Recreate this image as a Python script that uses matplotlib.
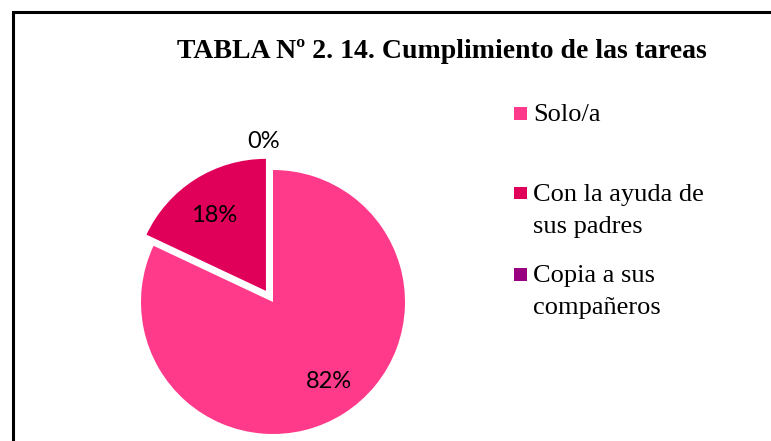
import numpy as np
import matplotlib
matplotlib.use("Agg")
import matplotlib.pyplot as plt
from matplotlib.patches import Rectangle

title = "TABLA Nº 2. 14. Cumplimiento de las tareas"
categories = ["Solo/a", "Con la ayuda de\nsus padres", "Copia a sus\ncompañeros"]
values = [82, 18, 0]
colors = ["#FF3A8A", "#E0005A", "#990080"]
explode = [0, 0.1, 0]

W, H = 771, 441
fig = plt.figure(figsize=(W / 100, H / 100), dpi=100)

# outer frame (continues past right and bottom edges)
fig.add_artist(Rectangle((13 / W, -0.1), 1.2, (H - 11.5) / H + 0.1,
                         transform=fig.transFigure, fill=False,
                         edgecolor="black", linewidth=2.2, clip_on=False))

# pie axes: center (273, 302) px, radius 132 px
R = 132
cx, cy = 273, H - 302
half = 1.2
size = 2 * half * R
ax = fig.add_axes([(cx - size / 2) / W, (cy - size / 2) / H, size / W, size / H])

wedges, texts, autotexts = ax.pie(
    values, colors=colors, explode=explode, startangle=90, counterclock=False,
    autopct=lambda p: f"{p:.0f}%", pctdistance=0.72, radius=1,
    wedgeprops=dict(linewidth=0),
    textprops=dict(fontsize=17, family="Lato", color="black"))
ax.set_xlim(-half, half)
ax.set_ylim(-half, half)
ax.set_aspect("equal")
ax.axis("off")
for w in wedges:
    w.set_clip_on(False)
for t in autotexts:
    t.set_va("center_baseline")
# nudge the labels to where the reference places them
x0, y0 = autotexts[0].get_position()
autotexts[0].set_position((x0 + 0.04, y0 + 0.02))
x1, y1 = autotexts[1].get_position()
autotexts[1].set_position((x1 - 0.01, y1 - 0.02))
# the 0% label sits just outside the pie at the top
theta = np.deg2rad(90 + 3.5)
autotexts[2].set_position((1.23 * np.cos(theta), 1.23 * np.sin(theta)))

# title
fig.text(441.5 / W, 1 - 52 / H, title, ha="center", va="center",
         fontsize=20, fontweight="bold", family="Liberation Serif")

# legend (handle aligned with the first text line)
leg_y = [113, 193, 274]
sq = 13
for cat, col, y in zip(categories, colors, leg_y):
    fig.add_artist(Rectangle((513.5 / W, 1 - (y + sq / 2) / H), sq / W, sq / H,
                             transform=fig.transFigure, facecolor=col,
                             edgecolor="none"))
    fig.text(533 / W, 1 - (y - 9) / H, cat, ha="left", va="top",
             fontsize=19, family="Liberation Serif", linespacing=1.56)

fig.savefig("out.png", dpi=100)
